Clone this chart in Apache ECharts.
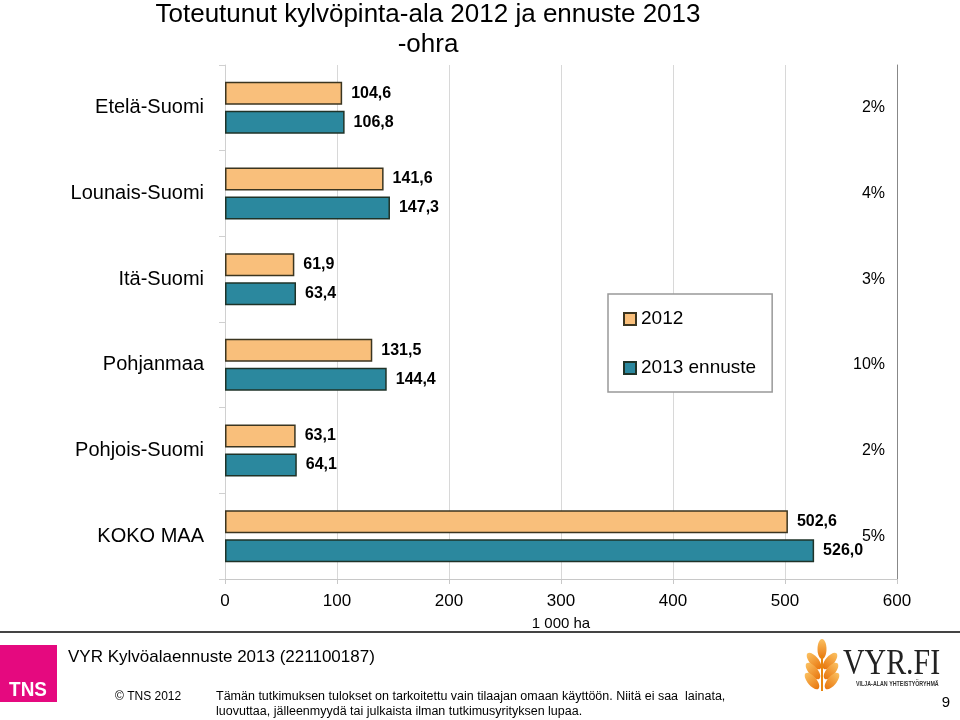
<!DOCTYPE html>
<html><head><meta charset="utf-8">
<script src="https://cdn.jsdelivr.net/npm/echarts@6/dist/echarts.min.js"></script>
<style>html,body{margin:0;padding:0;background:#fff}#c{width:960px;height:720px}</style>
</head><body><div id="c"></div>
<script>
const categories = ['Etelä-Suomi','Lounais-Suomi','Itä-Suomi','Pohjanmaa','Pohjois-Suomi','KOKO MAA'];
const values2012 = [104.6,141.6,61.9,131.5,63.1,502.6];
const values2013 = [106.8,147.3,63.4,144.4,64.1,526.0];
const changeLabels = ['2%','4%','3%','10%','2%','5%'];
const xTicks = [0,100,200,300,400,500,600];
const seriesNames = ['2012','2013 ennuste'];
const titleText = 'Toteutunut kylvöpinta-ala 2012 ja ennuste 2013\n-ohra';
const axisName = '1 000 ha';

const FONT = '"Liberation Sans", Arial, sans-serif';
const chart = echarts.init(document.getElementById('c'), null, {renderer:'canvas'});
const fmt = p => p.value.toFixed(1).replace('.', ',');

const wheat = [];
const wx = 822;
const gradFill = new echarts.graphic.LinearGradient(0,0,0,1,[{offset:0,color:'#FBC060'},{offset:1,color:'#E8760E'}]);
wheat.push({type:'ellipse', shape:{cx:wx, cy:649, rx:4.5, ry:10}, style:{fill:gradFill}});
[[661,0],[671,1],[681,2]].forEach(([y,i])=>{
  wheat.push({type:'ellipse', x:wx-8-i, y:y, rotation:0.7, shape:{cx:0,cy:0,rx:4.5,ry:10}, style:{fill:gradFill}});
  wheat.push({type:'ellipse', x:wx+8+i, y:y, rotation:-0.7, shape:{cx:0,cy:0,rx:4.5,ry:10}, style:{fill:gradFill}});
});
wheat.push({type:'rect', shape:{x:wx-1, y:655, width:2, height:36}, style:{fill:'#E8860E'}});

const option = {
  animation:false,
  backgroundColor:'#fff',
  textStyle:{fontFamily:FONT},
  grid:{left:225, right:63, top:65, bottom:141, containLabel:false},
  legend:{
    orient:'vertical', left:608, top:294,
    padding:[14,16,13,15], itemGap:27,
    itemWidth:12, itemHeight:12, icon:'rect',
    backgroundColor:'#fff', borderColor:'#999', borderWidth:1.5,
    textStyle:{fontSize:19, color:'#000', fontFamily:FONT, lineHeight:22},
    data:seriesNames
  },
  xAxis:{
    type:'value', min:xTicks[0], max:xTicks[xTicks.length-1], interval:xTicks[1]-xTicks[0],
    axisLine:{show:true, lineStyle:{color:'#c8c8c8'}},
    axisTick:{show:true, length:5, lineStyle:{color:'#c8c8c8'}},
    splitLine:{show:true, lineStyle:{color:'#d8d8d8'}},
    axisLabel:{fontSize:17, color:'#000', margin:14, fontFamily:FONT},
    name:axisName, nameLocation:'middle', nameGap:37,
    nameTextStyle:{fontSize:15, color:'#000', fontFamily:FONT}
  },
  yAxis:[{
    type:'category', data:categories, inverse:true,
    axisLine:{show:true, lineStyle:{color:'#d0d0d0'}},
    axisTick:{show:true, length:6, lineStyle:{color:'#d0d0d0'}},
    axisLabel:{fontSize:20, color:'#000', margin:21, fontFamily:FONT}
  },{
    type:'category', data:changeLabels, inverse:true, position:'right',
    axisLine:{show:true, lineStyle:{color:'#888', width:1}},
    axisTick:{show:false},
    axisLabel:{inside:true, fontSize:16, color:'#000', margin:12, fontFamily:FONT}
  }],
  series:[{
    name:seriesNames[0], type:'bar', data:values2012, barWidth:23, barGap:'26%',
    itemStyle:{color:'#F9BF7B', borderColor:'#3b3520', borderWidth:1.5},
    label:{show:true, position:'right', distance:9, fontSize:16, fontWeight:'bold', color:'#000', formatter:fmt, fontFamily:FONT}
  },{
    name:seriesNames[1], type:'bar', data:values2013, barWidth:23, barGap:'26%',
    itemStyle:{color:'#2B889E', borderColor:'#1f3328', borderWidth:1.5},
    label:{show:true, position:'right', distance:9, fontSize:16, fontWeight:'bold', color:'#000', formatter:fmt, fontFamily:FONT}
  }],
  graphic:[
    {type:'text', x:428, y:0, style:{text:titleText, font:'26px '+FONT, fill:'#000', align:'center', verticalAlign:'top', lineHeight:30}},
    {type:'rect', shape:{x:0, y:631, width:960, height:2}, style:{fill:'#444'}},
    {type:'rect', shape:{x:0, y:645, width:57, height:57}, style:{fill:'#E5097F'}},
    {type:'text', x:28, y:690, scaleX:0.9, style:{text:'TNS', font:'bold 21px '+FONT, fill:'#fff', align:'center', verticalAlign:'middle'}},
    {type:'text', x:68, y:657, style:{text:'VYR Kylvöalaennuste 2013 (221100187)', font:'17px '+FONT, fill:'#000', verticalAlign:'middle'}},
    {type:'text', x:115, y:697, style:{text:'© TNS 2012', font:'12px '+FONT, fill:'#000', verticalAlign:'middle'}},
    {type:'text', x:216, y:697, style:{text:'Tämän tutkimuksen tulokset on tarkoitettu vain tilaajan omaan käyttöön. Niitä ei saa  lainata,', font:'12.5px '+FONT, fill:'#000', verticalAlign:'middle'}},
    {type:'text', x:216, y:712, style:{text:'luovuttaa, jälleenmyydä tai julkaista ilman tutkimusyrityksen lupaa.', font:'12.5px '+FONT, fill:'#000', verticalAlign:'middle'}},
    {type:'text', x:946, y:703, style:{text:'9', font:'15px '+FONT, fill:'#000', align:'center', verticalAlign:'middle'}},
    {type:'text', x:843, y:665, scaleX:0.83, style:{text:'VYR.FI', font:'36px "Liberation Serif", "DejaVu Serif", serif', fill:'#222', verticalAlign:'middle'}},
    {type:'text', x:856, y:684, scaleX:0.82, style:{text:'VILJA-ALAN YHTEISTYÖRYHMÄ', font:'bold 6.5px '+FONT, fill:'#333', verticalAlign:'middle'}},
    {type:'group', children:wheat}
  ]
};
chart.setOption(option);
</script></body></html>
